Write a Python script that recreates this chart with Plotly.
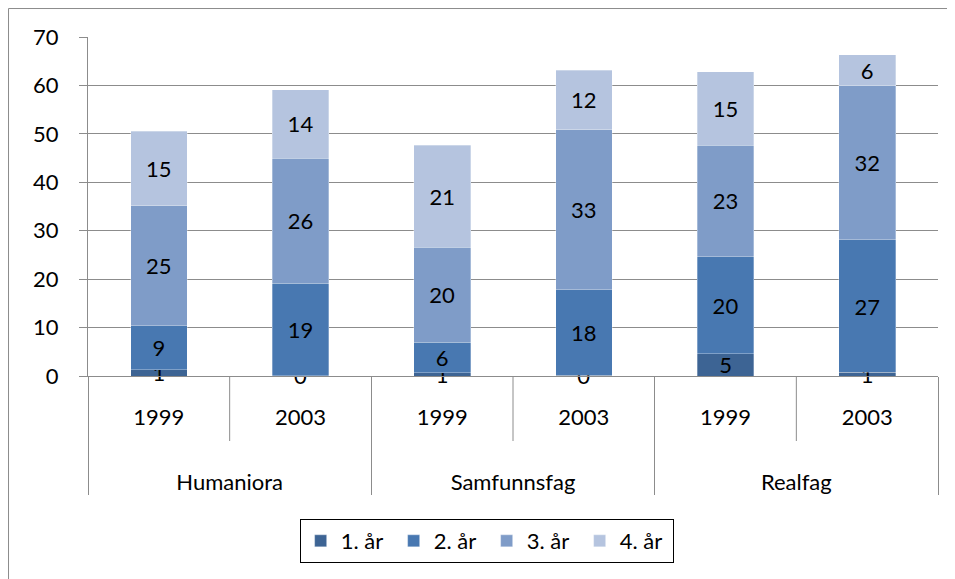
import plotly.graph_objects as go

# categories (two-level x axis); the <br> padding spaces the label rows like the original
fag = ["<br>Humaniora", "<br>Humaniora", "<br>Samfunnsfag", "<br>Samfunnsfag", "<br>Realfag", "<br>Realfag"]
aar = ["<br>1999<br>\u00a0", "<br>2003<br>\u00a0", "<br>1999<br>\u00a0",
       "<br>2003<br>\u00a0", "<br>1999<br>\u00a0", "<br>2003<br>\u00a0"]

# series values
aar1 = [1.3, 0.1, 0.7, 0.2, 4.6, 0.8]
aar2 = [9.1, 19.1, 6.3, 17.6, 20.0, 27.3]
aar3 = [24.8, 25.8, 19.6, 33.1, 23.1, 31.8]
aar4 = [15.3, 14.1, 21.1, 12.2, 15.1, 6.4]

series_names = ["1. år", "2. år", "3. år", "4. år"]
colors = ["#3D6494", "#4878B1", "#7F9CC8", "#B5C4DF"]

FONT = "Lato"
FS = 22
GRID = "#8C8C8C"

fig = go.Figure()

for name, vals, col in zip(series_names, [aar1, aar2, aar3, aar4], colors):
    fig.add_trace(
        go.Bar(
            x=[fag, aar],
            y=vals,
            name=name,
            marker=dict(color=col, line=dict(color="rgba(255,255,255,0.6)", width=0.5)),
            texttemplate="%{y:.0f}",
            textposition="inside",
            insidetextanchor="middle",
            textangle=0,
            constraintext="none",
            cliponaxis=False,
            textfont=dict(family=FONT, size=FS, color="#000000"),
        )
    )

# year dividers below the axis (between 1999 and 2003 in each group)
n = len(aar)
year_lines = []
for k in range(1, n, 2):
    year_lines.append(
        dict(
            type="line",
            xref="paper",
            yref="paper",
            x0=k / n,
            x1=k / n,
            y0=0,
            y1=-65 / 339,
            line=dict(color=GRID, width=1),
        )
    )

# outer chart border (cropped on right and bottom)
border = dict(
    type="rect",
    xref="paper",
    yref="paper",
    x0=-0.0935,
    y0=-0.63,
    x1=1.05,
    y1=1.084,
    line=dict(color=GRID, width=1),
    fillcolor="rgba(0,0,0,0)",
    layer="below",
)

fig.update_layout(
    barmode="stack",
    bargap=0.6,
    width=947,
    height=571,
    autosize=False,
    margin=dict(l=80, r=17, t=29, b=203),
    paper_bgcolor="#FFFFFF",
    plot_bgcolor="#FFFFFF",
    font=dict(family=FONT, size=FS, color="#000000"),
    showlegend=True,
    legend=dict(
        orientation="h",
        x=0.469,
        xanchor="center",
        y=-0.422,
        yanchor="top",
        bordercolor="#000000",
        borderwidth=1,
        entrywidth=48,
        font=dict(family=FONT, size=FS, color="#000000"),
        traceorder="normal",
    ),
    shapes=year_lines + [border],
)

fig.update_xaxes(
    type="multicategory",
    showline=True,
    linecolor=GRID,
    linewidth=1,
    ticks="",
    ticklabelstandoff=-7,
    showdividers=True,
    dividercolor=GRID,
    dividerwidth=1,
    showgrid=False,
    tickfont=dict(family=FONT, size=FS, color="#000000"),
)

fig.update_yaxes(
    range=[0, 70],
    dtick=10,
    showgrid=True,
    gridcolor=GRID,
    gridwidth=1,
    zeroline=False,
    showline=True,
    linecolor=GRID,
    linewidth=1,
    ticks="outside",
    ticklen=8,
    tickcolor=GRID,
    ticklabelstandoff=16,
    tickfont=dict(family=FONT, size=FS, color="#000000"),
)

fig.write_html("out.html")
